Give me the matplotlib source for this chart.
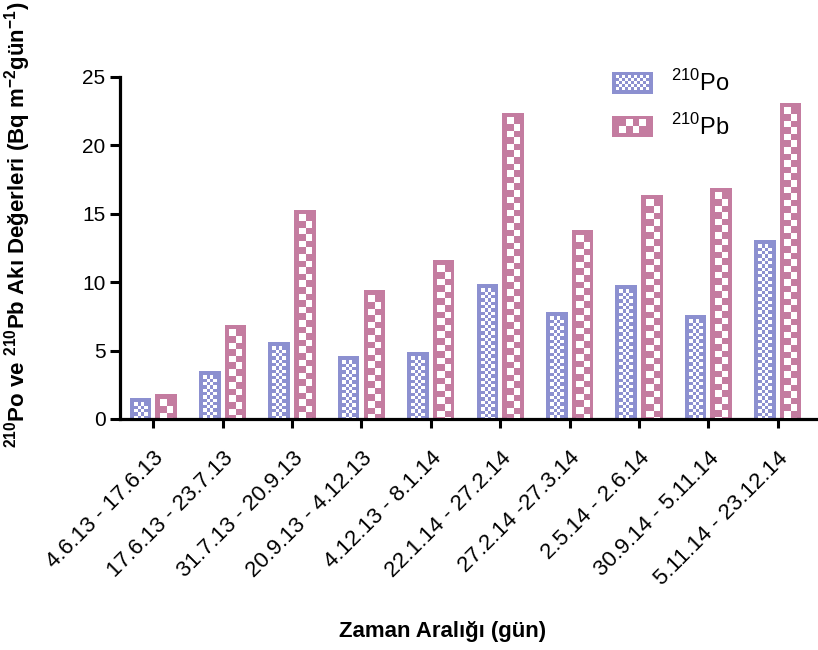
import numpy as np
import matplotlib
matplotlib.use("Agg")
from matplotlib import pyplot as plt
from matplotlib.colors import to_rgba
from matplotlib.legend_handler import HandlerBase
from matplotlib.patches import Rectangle, Patch

intervals = ["4.6.13 - 17.6.13", "17.6.13 - 23.7.13", "31.7.13 - 20.9.13", "20.9.13 - 4.12.13",
             "4.12.13 - 8.1.14", "22.1.14 - 27.2.14", "27.2.14 -27.3.14", "2.5.14 - 2.6.14",
             "30.9.14 - 5.11.14", "5.11.14 - 23.12.14"]
po210 = [1.5, 3.5, 5.6, 4.6, 4.9, 9.9, 7.8, 9.8, 7.6, 13.05]
pb210 = [1.8, 6.9, 15.3, 9.4, 11.6, 22.4, 13.8, 16.4, 16.9, 23.1]
y_ticks = [0, 5, 10, 15, 20, 25]

PO_COLOR = "#8c90d0"
PB_COLOR = "#c47ca0"

plt.rcParams["font.family"] = ["Liberation Sans", "DejaVu Sans"]
plt.rcParams["mathtext.fontset"] = "custom"
plt.rcParams["mathtext.rm"] = "Liberation Sans"
plt.rcParams["mathtext.bf"] = "Liberation Sans:bold"


def checker_fill(ax, patch, color, cell, border):
    """Put a white checkerboard inside a bar, leaving a coloured rim."""
    x, y, w, h = patch.get_x(), patch.get_y(), patch.get_width(), patch.get_height()
    (px0, py0), (px1, py1) = ax.transData.transform([(x, y), (x + w, y + h)])
    ix0, ix1 = px0 + border, px1 - border
    iy0, iy1 = py0 + 1, py1 - border
    nw, nh = int(round(ix1 - ix0)), int(round(iy1 - iy0))
    if nw <= 0 or nh <= 0:
        return
    jj, ii = np.meshgrid(np.arange(nw), np.arange(nh))
    white = ((ii / cell).astype(int) + (jj / cell).astype(int)) % 2 == 0
    img = np.ones((nh, nw, 4))
    img[~white] = to_rgba(color)
    inv = ax.transData.inverted()
    (dx0, dy0), (dx1, dy1) = inv.transform([(ix0, iy0), (ix0 + nw, iy0 + nh)])
    ax.imshow(img, extent=[dx0, dx1, dy0, dy1], origin="upper", interpolation="nearest",
              aspect="auto", zorder=3)


class CheckerHandler(HandlerBase):
    def __init__(self, cell, border):
        super().__init__()
        self.cell = cell
        self.border = border

    def create_artists(self, legend, orig_handle, xdescent, ydescent, width, height, fontsize, trans):
        color = orig_handle.get_facecolor()
        x0, y0 = -xdescent, -ydescent
        arts = [Rectangle((x0, y0), width, height, facecolor=color, edgecolor="none", transform=trans)]
        b, c = self.border, self.cell
        nx = int((width - 2 * b) // c)
        ny = int((height - 2 * b) // c)
        ox = x0 + (width - nx * c) / 2
        oy = y0 + (height - ny * c) / 2
        for i in range(ny):
            for j in range(nx):
                if (i + j) % 2 == 0:
                    arts.append(Rectangle((ox + j * c, oy + i * c), c, c, facecolor="white",
                                          edgecolor="none", transform=trans))
        return arts


def main():
    fig = plt.figure(figsize=(8.18, 6.5), dpi=100)
    ax = fig.add_axes([120 / 818, 1 - 419 / 650, 698 / 818, 342 / 650])

    x = np.arange(len(intervals))
    off, width = 0.185, 0.31
    xlim, ylim = (-0.48, 9.58), (0, 25)
    ax.set_xlim(*xlim)
    ax.set_ylim(*ylim)

    bars_po = ax.bar(x - off, po210, width, color=PO_COLOR, zorder=2)
    bars_pb = ax.bar(x + off, pb210, width, color=PB_COLOR, zorder=2)
    for p in bars_po:
        checker_fill(ax, p, PO_COLOR, 3.3, 4)
    for p in bars_pb:
        checker_fill(ax, p, PB_COLOR, 6.6, 4.5)
    ax.set_xlim(*xlim)
    ax.set_ylim(*ylim)

    for side in ["top", "right"]:
        ax.spines[side].set_visible(False)
    for side in ["left", "bottom"]:
        ax.spines[side].set_linewidth(2.3)

    ax.set_yticks(y_ticks)
    ax.tick_params(axis="y", length=7.5, width=2.2, labelsize=15, pad=3)
    ax.set_xticks(x)
    ax.set_xticklabels(intervals, rotation=45, ha="right", va="top", rotation_mode="anchor")
    ax.tick_params(axis="x", length=6.5, width=2.2, labelsize=16, pad=14)

    po_handle = Patch(facecolor=PO_COLOR)
    pb_handle = Patch(facecolor=PB_COLOR)
    ax.legend([po_handle, pb_handle], ["$^{210}$Po", "$^{210}$Pb"],
              handler_map={po_handle: CheckerHandler(2.2, 2.2), pb_handle: CheckerHandler(5.0, 2.5)},
              loc="upper left", bbox_to_anchor=(612 / 818, 1 - 70 / 650),
              bbox_transform=fig.transFigure, frameon=False, fontsize=17,
              handlelength=1.74, handleheight=1.02, labelspacing=0.75,
              handletextpad=0.75, borderpad=0, borderaxespad=0)

    fig.text(18 / 818, 1 - 225 / 650,
             r"$\mathbf{^{210}}$Po ve $\mathbf{^{210}}$Pb Akı Değerleri (Bq m$\mathbf{^{-2}}$gün$\mathbf{^{-1}}$)",
             rotation=90, ha="center", va="center", fontsize=16, fontweight="bold")
    fig.text(443 / 818, 1 - 631 / 650, "Zaman Aralığı (gün)", ha="center", va="center",
             fontsize=16, fontweight="bold")

    fig.savefig("out.png", dpi=100)


if __name__ == "__main__":
    main()
